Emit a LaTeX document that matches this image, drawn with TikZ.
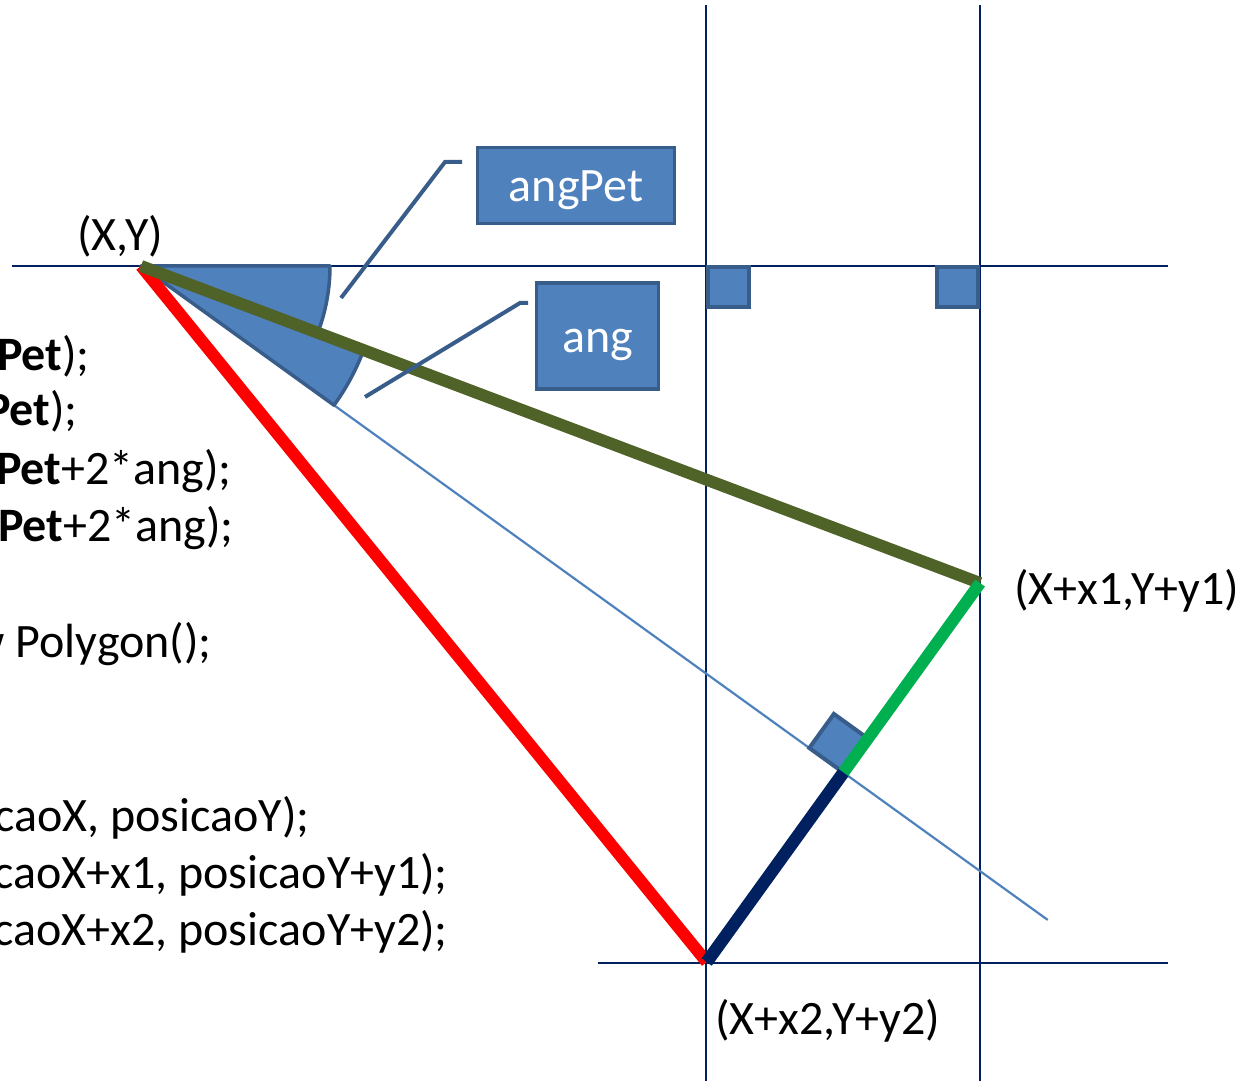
\documentclass[tikz,border=0pt]{standalone}
\usepackage{fontspec}
\setmainfont{Carlito}
\usetikzlibrary{calc}
\definecolor{azulcaixa}{RGB}{79,129,189}
\definecolor{bordacaixa}{RGB}{56,93,138}
\definecolor{azuleixo}{RGB}{0,32,96}
\definecolor{oliva}{RGB}{79,98,40}
\definecolor{verde}{RGB}{0,176,80}

\begin{document}
\begin{tikzpicture}[x = 1pt, y = 1pt, line cap = butt, font = \fontsize{48}{57}\selectfont]
    \tikzstyle{eixo} = [draw = azuleixo, line width = 2.5pt]
    \tikzstyle{setor} = [draw = bordacaixa, fill = azulcaixa, line width = 3.5pt, line join = round]
    \tikzstyle{reto} = [draw = bordacaixa, fill = azulcaixa, line width = 4pt]
    \tikzstyle{caixa} = [draw = bordacaixa, fill = azulcaixa, line width = 3.5pt, text = white, inner sep = 0pt, text height = 45.6pt, text depth = 13pt]
    \tikzstyle{chamada} = [draw = bordacaixa, line width = 4pt]
    \tikzstyle{codigo} = [anchor = base east, inner sep = 0pt]
    \tikzstyle{lado} = [line width = 12pt]

    \useasboundingbox (0,0) rectangle (1255,1081);
    \clip (0,0) rectangle (1255,1081);

    \coordinate (O) at (141,815);
    \coordinate (P1) at ($(O) + (-20.7:897)$);
    \coordinate (P2) at ($(O) + (-50.9:897)$);
    \coordinate (M) at ($(P1)!0.5!(P2)$);
    \coordinate (T) at ($(O) + (-35.8:1118)$);

    % eixos
    \draw[eixo] (12,815) -- (1168,815);
    \draw[eixo] (598,118) -- (1168,118);
    \draw[eixo] (706,1076) -- (706,0);
    \draw[eixo] (980,1076) -- (980,0);

    \draw[draw = azulcaixa, line width = 2.2pt] (O) -- (T);

    % angulos
    \draw[setor] (O) -- ++(0:189) arc[start angle = 0, end angle = -20.7, radius = 189] -- cycle;
    \draw[setor] (O) -- ++(-20.7:238) arc[start angle = -20.7, end angle = -35.8, radius = 238] -- cycle;
    \draw[reto] (708,813.5) rectangle ++(41,-40);
    \draw[reto] (978,813.5) rectangle ++(-41,-40);
    \draw[reto] (M) -- ++(144.2:42) -- ++(54.2:42) -- ++(-35.8:42) -- cycle;

    \draw[lado, red] (O) -- (P2);
    \draw[lado, oliva] (O) -- (P1);
    \draw[lado, verde] (P1) -- (M);
    \draw[lado, azuleixo, line width = 12.5pt] (M) -- (P2);

    % rotulos
    \node[caixa, minimum width = 197, minimum height = 76] (angPet) at (576,895.5) {angPet};
    \node[caixa, minimum width = 122, minimum height = 106] (ang) at (597.5,745) {ang};
    \coordinate (cAngPet) at (462,919);
    \coordinate (cAng) at (528,778);
    \draw[chamada] (341,783) -- (445,919) -- (cAngPet);
    \draw[chamada] (365,684) -- (520,778) -- (cAng);

    \node[inner sep = 0pt] (XY) at (120,845) {(X,Y)};
    \node[inner sep = 0pt, anchor = west] (XY1) at (1014,490) {(X+x1,Y+y1)};
    \node[inner sep = 0pt, anchor = west] (XY2) at (715,60) {(X+x2,Y+y2)};

    % codigo
    \node[codigo] (l1) at (90,710) {\textbf{Pet});};
    \node[codigo] (l2) at (78,655) {\textbf{Pet});};
    \node[codigo] (l3) at (232,596) {\textbf{Pet}+2*ang);};
    \node[codigo] (l4) at (234,539) {\textbf{Pet}+2*ang);};
    \node[codigo] (l5) at (212,423) {w Polygon();};
    \node[codigo] (l6) at (310,249) {caoX, posicaoY);};
    \node[codigo] (l7) at (448,192) {caoX+x1, posicaoY+y1);};
    \node[codigo] (l8) at (448,135) {caoX+x2, posicaoY+y2);};
\end{tikzpicture}
\end{document}
